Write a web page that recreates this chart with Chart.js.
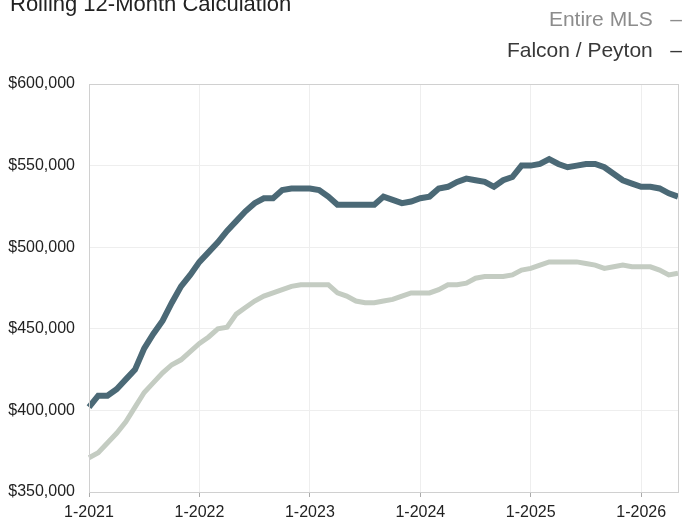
<!DOCTYPE html>
<html>
<head>
<meta charset="utf-8">
<script src="https://cdn.jsdelivr.net/npm/chart.js@4"></script>
<style>
  body { margin: 0; background: #fff; font-family: "Liberation Sans", Arial, sans-serif; }
  .wrap { position: relative; width: 691px; height: 522px; overflow: hidden; }
  .title { position: absolute; left: 10px; top: -7px; font-size: 22px; line-height: 22px; color: #222; }
  .legend { position: absolute; right: 9px; font-size: 21px; line-height: 21px; text-align: right; white-space: pre; }
  .leg1 { top: 8px; color: #8c8c8c; }
  .leg2 { top: 39px; color: #383838; }
  canvas { position: absolute; left: 0; top: 0; }
</style>
</head>
<body>
<div class="wrap">
  <canvas id="chart" width="691" height="522"></canvas>
  <div class="title">Rolling 12-Month Calculation</div>
  <div class="legend leg1">Entire MLS   –</div>
  <div class="legend leg2">Falcon / Peyton   –</div>
</div>
<script>
// months 1-2021 .. 5-2026
const months = [];
for (let y = 2021; y <= 2026; y++) {
  for (let m = 1; m <= 12; m++) {
    if (y === 2026 && m > 5) break;
    months.push(m + "-" + y);
  }
}

const falconPeyton = [
  402000, 409000, 409000, 413000, 419000, 425000, 438000, 447000, 455000, 466000, 476000, 483000,
  491000, 497000, 503000, 510000, 516000, 522000, 527000, 530000, 530000, 535000, 536000, 536000,
  536000, 535000, 531000, 526000, 526000, 526000, 526000, 526000, 531000, 529000, 527000, 528000,
  530000, 531000, 536000, 537000, 540000, 542000, 541000, 540000, 537000, 541000, 543000, 550000,
  550000, 551000, 554000, 551000, 549000, 550000, 551000, 551000, 549000, 545000, 541000, 539000,
  537000, 537000, 536000, 533000, 531000
];

const entireMLS = [
  371000, 374000, 380000, 386000, 393000, 402000, 411000, 417000, 423000, 428000, 431000, 436000,
  441000, 445000, 450000, 451000, 459000, 463000, 467000, 470000, 472000, 474000, 476000, 477000,
  477000, 477000, 477000, 472000, 470000, 467000, 466000, 466000, 467000, 468000, 470000, 472000,
  472000, 472000, 474000, 477000, 477000, 478000, 481000, 482000, 482000, 482000, 483000, 486000,
  487000, 489000, 491000, 491000, 491000, 491000, 490000, 489000, 487000, 488000, 489000, 488000,
  488000, 488000, 486000, 483000, 484000
];

const yTicks = [350000, 400000, 450000, 500000, 550000, 600000];

const isJan = (i) => months[i] && months[i].startsWith("1-");

new Chart(document.getElementById("chart"), {
  type: "line",
  data: {
    labels: months,
    datasets: [
      {
        label: "Falcon / Peyton",
        data: falconPeyton,
        borderColor: "#4b6976",
        borderWidth: 6,
        pointRadius: 0,
        tension: 0
      },
      {
        label: "Entire MLS",
        data: entireMLS,
        borderColor: "#c4ccc2",
        borderWidth: 5,
        pointRadius: 0,
        tension: 0
      }
    ]
  },
  options: {
    responsive: false,
    animation: false,
    layout: { padding: { top: 84, right: 13, left: 0, bottom: 0 } },
    plugins: { legend: { display: false }, tooltip: { enabled: false } },
    scales: {
      x: {
        type: "category",
        offset: false,
        border: { color: "#c8c8c8" },
        grid: {
          color: (ctx) => isJan(ctx.index) ? "#eeeeee" : "rgba(0,0,0,0)",
          tickColor: (ctx) => isJan(ctx.index) ? "#aaaaaa" : "rgba(0,0,0,0)",
          tickLength: 5
        },
        ticks: {
          autoSkip: false,
          maxRotation: 0,
          color: "#222",
          font: { family: "Liberation Sans", size: 16 },
          padding: 6,
          callback: (v, i) => isJan(i) ? months[i] : ""
        },
        afterFit: (s) => { s.height = 30; }
      },
      y: {
        min: 350000,
        max: 600000,
        border: { color: "#c8c8c8" },
        grid: { color: "#eeeeee", drawTicks: false },
        afterBuildTicks: (s) => { s.ticks = yTicks.map(v => ({ value: v })); },
        ticks: {
          color: "#222",
          font: { family: "Liberation Sans", size: 16 },
          padding: 14,
          callback: (v) => "$" + v.toLocaleString("en-US")
        },
        afterFit: (s) => { s.width = 89; }
      }
    }
  },
  plugins: [{
    id: "frame",
    afterDraw(chart) {
      const a = chart.chartArea, c = chart.ctx;
      c.save();
      c.strokeStyle = "#d0d0d0";
      c.lineWidth = 1;
      c.strokeRect(a.left + 0.5, a.top + 0.5, a.right - a.left, a.bottom - a.top);
      c.restore();
    }
  }]
});
</script>
</body>
</html>
